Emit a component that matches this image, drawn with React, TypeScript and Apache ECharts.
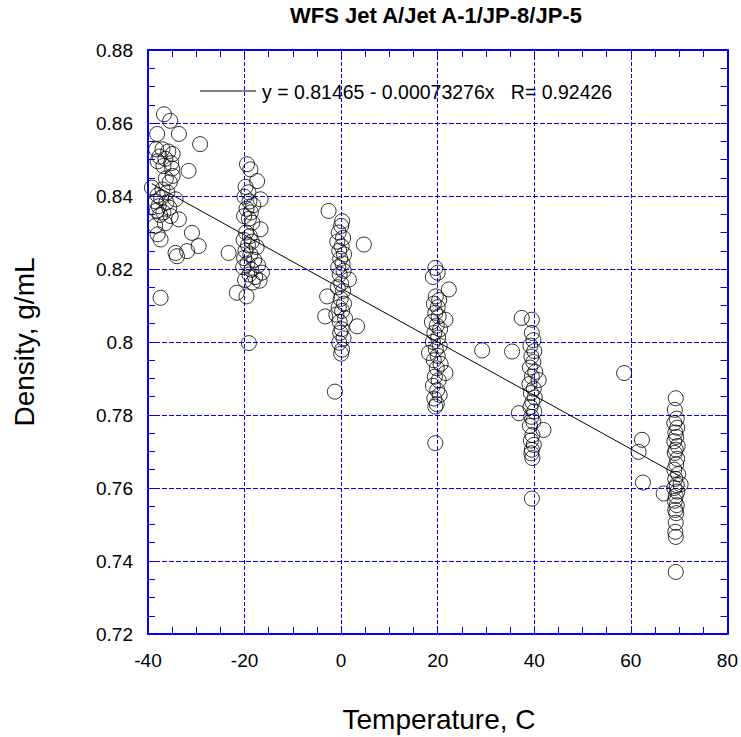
import React, { useEffect, useRef } from "react";
import * as echarts from "echarts";

// ---- Data (temperature °C, density g/mL) ----
const clusterMinus37: [number, number][] = [
  [-36.7, 0.8624], [-35.4, 0.8606], [-38.1, 0.857], [-33.6, 0.857], [-29.2, 0.8542],
  [-38.3, 0.8528], [-37.0, 0.8528], [-35.8, 0.8522], [-34.9, 0.8515], [-37.6, 0.8508],
  [-36.4, 0.8502], [-38.0, 0.8495], [-35.2, 0.849], [-36.8, 0.8482], [-35.0, 0.8475],
  [-31.6, 0.8469], [-34.9, 0.8455], [-36.3, 0.8448], [-35.5, 0.8438], [-39.2, 0.8423],
  [-37.0, 0.8418], [-36.0, 0.841], [-38.0, 0.8402], [-34.3, 0.8391], [-37.3, 0.8395],
  [-38.4, 0.8385], [-36.2, 0.8382], [-37.8, 0.8372], [-35.6, 0.8368], [-38.2, 0.836],
  [-36.8, 0.8355], [-37.5, 0.8348], [-35.3, 0.8345], [-33.6, 0.8336], [-38.5, 0.8318],
  [-36.5, 0.8325], [-37.4, 0.8281], [-38.0, 0.8295], [-30.9, 0.8299], [-29.5, 0.8263],
  [-34.3, 0.8244], [-31.9, 0.8249], [-34.0, 0.8235], [-37.4, 0.8121],
];

const clusterMinus19: [number, number][] = [
  [-19.5, 0.8487], [-18.8, 0.8473], [-17.4, 0.8441], [-19.8, 0.8425], [-19.2, 0.841],
  [-16.7, 0.8391], [-20.0, 0.8398], [-19.0, 0.8385], [-18.2, 0.8375], [-19.6, 0.8365],
  [-18.7, 0.8355], [-20.1, 0.8345], [-19.1, 0.8338], [-18.4, 0.8327], [-16.7, 0.8309],
  [-19.7, 0.83], [-18.9, 0.829], [-20.2, 0.828], [-18.5, 0.8275], [-19.3, 0.8265],
  [-17.5, 0.826], [-23.3, 0.8244], [-19.8, 0.825], [-18.8, 0.824], [-20.1, 0.823],
  [-18.0, 0.8225], [-19.4, 0.8215], [-17.2, 0.821], [-20.3, 0.8205], [-18.6, 0.8198],
  [-16.4, 0.819], [-19.0, 0.8185], [-17.8, 0.8178], [-19.9, 0.817], [-18.3, 0.8163],
  [-16.9, 0.8168], [-21.6, 0.8135], [-19.6, 0.8125], [-19.1, 0.7997],
];

const clusterZero: [number, number][] = [
  [-2.6, 0.8359], [0.2, 0.8331], [0.0, 0.8318], [-0.5, 0.83], [0.4, 0.8285],
  [-0.8, 0.8275], [4.7, 0.8267], [0.1, 0.8262], [-0.4, 0.825], [0.6, 0.824],
  [-0.2, 0.8228], [0.3, 0.8215], [-0.6, 0.8205], [0.5, 0.8195], [1.6, 0.8171],
  [-0.3, 0.8185], [0.0, 0.816], [-0.7, 0.815], [0.4, 0.814], [-2.9, 0.8125],
  [-0.1, 0.8118], [0.6, 0.8105], [-0.5, 0.8095], [0.2, 0.8085], [-3.3, 0.807],
  [-1.0, 0.8075], [0.8, 0.8065], [-0.3, 0.8055], [3.3, 0.8043], [0.1, 0.8035],
  [-0.2, 0.8025], [0.5, 0.801], [-0.4, 0.7998], [0.2, 0.7979], [0.0, 0.7968],
  [-1.3, 0.7864],
];

const clusterTwenty: [number, number][] = [
  [19.5, 0.8203], [20.0, 0.819], [19.0, 0.8178], [22.3, 0.8144], [19.6, 0.8125],
  [20.3, 0.8115], [19.2, 0.8105], [20.0, 0.8095], [19.5, 0.808], [21.6, 0.8061],
  [20.2, 0.807], [18.8, 0.8055], [19.8, 0.8045], [20.5, 0.8035], [19.3, 0.8025],
  [20.1, 0.8012], [19.0, 0.8], [20.4, 0.799], [18.2, 0.797], [19.6, 0.798],
  [20.0, 0.7962], [19.2, 0.795], [20.6, 0.794], [19.8, 0.7928], [21.6, 0.7915],
  [19.4, 0.7905], [20.2, 0.7895], [19.0, 0.788], [19.9, 0.7868], [20.4, 0.7855],
  [19.3, 0.7845], [19.8, 0.783], [19.5, 0.7823], [29.2, 0.7977], [19.5, 0.7723],
];

const clusterForty: [number, number][] = [
  [37.4, 0.8066], [39.5, 0.8061], [39.5, 0.8025], [39.8, 0.8005], [35.4, 0.7974],
  [39.2, 0.799], [40.0, 0.7975], [39.4, 0.796], [39.8, 0.7945], [39.1, 0.793],
  [40.2, 0.7918], [40.9, 0.7896], [39.5, 0.7905], [39.0, 0.7885], [39.9, 0.7872],
  [39.3, 0.786], [40.1, 0.7848], [39.6, 0.7835], [39.2, 0.7822], [36.8, 0.7805],
  [40.0, 0.781], [39.4, 0.7795], [39.8, 0.7782], [39.1, 0.777], [41.9, 0.7759],
  [39.6, 0.7745], [39.3, 0.773], [39.9, 0.7718], [39.5, 0.7705], [39.4, 0.7695],
  [39.6, 0.7682], [39.5, 0.7571],
];

const clusterSeventy: [number, number][] = [
  [58.6, 0.7915], [62.3, 0.7732], [61.6, 0.7699], [62.5, 0.7615], [66.8, 0.7585],
  [69.3, 0.7846], [69.1, 0.7814], [69.5, 0.779], [69.0, 0.7778], [69.6, 0.7765],
  [69.2, 0.7752], [69.4, 0.774], [69.0, 0.7728], [69.7, 0.7715], [69.3, 0.7705],
  [69.1, 0.7696], [69.6, 0.768], [69.4, 0.7665], [69.0, 0.765], [69.8, 0.7638],
  [69.2, 0.7625], [70.3, 0.761], [69.5, 0.7608], [69.0, 0.76], [69.6, 0.759],
  [69.3, 0.7578], [69.1, 0.7565], [69.5, 0.7553], [69.2, 0.754], [69.4, 0.7531],
  [69.3, 0.7505], [69.2, 0.748], [69.3, 0.7466], [69.3, 0.737],
];

// Regression shown in the chart: y = 0.81465 - 0.00073276x, R = 0.92426
const FIT_INTERCEPT = 0.81465;
const FIT_SLOPE = -0.00073276;
const FIT_X_RANGE = [-39.2, 70.3];
const FIT_LABEL = "y = 0.81465 - 0.00073276x   R= 0.92426";

const X_TICKS = { min: -40, max: 80, interval: 20 };
const Y_TICKS = { min: 0.72, max: 0.88, interval: 0.02 };

const TITLE = "WFS Jet A/Jet A-1/JP-8/JP-5";
const X_NAME = "Temperature, C";
const Y_NAME = "Density, g/mL";

const BLUE = "#0000ff";
const FONT = "'Liberation Sans', Arial, sans-serif";

export default function App() {
  const ref = useRef<HTMLDivElement>(null);

  useEffect(() => {
    if (!ref.current) return;
    const chart = echarts.init(ref.current, undefined, { renderer: "svg" });

    const allPoints = [
      ...clusterMinus37,
      ...clusterMinus19,
      ...clusterZero,
      ...clusterTwenty,
      ...clusterForty,
      ...clusterSeventy,
    ];
    const fitLine = FIT_X_RANGE.map((x) => [x, FIT_INTERCEPT + FIT_SLOPE * x]);

    const axisCommon = {
      type: "value" as const,
      axisLine: { show: true, onZero: false, lineStyle: { color: BLUE, width: 2 } },
      axisTick: { show: true, inside: true, length: 7, lineStyle: { color: BLUE, width: 1 } },
      minorTick: { show: true, splitNumber: 4, length: 7, lineStyle: { color: BLUE, width: 1 } },
    };

    chart.setOption({
      animation: false,
      grid: { left: 148, top: 50, width: 582, height: 584, containLabel: false },
      xAxis: [
        {
          ...axisCommon,
          ...X_TICKS,
          position: "bottom",
          splitLine: { show: true, lineStyle: { color: BLUE, type: [4, 2], width: 1 } },
          axisLabel: { show: true, color: "#000", fontSize: 19, fontFamily: FONT, margin: 17 },
        },
        {
          ...axisCommon,
          ...X_TICKS,
          position: "top",
          splitLine: { show: false },
          axisLabel: { show: false },
        },
      ],
      yAxis: [
        {
          ...axisCommon,
          ...Y_TICKS,
          position: "left",
          splitLine: { show: true, lineStyle: { color: BLUE, type: [5, 2], width: 1 } },
          axisLabel: { show: true, color: "#000", fontSize: 19, fontFamily: FONT, margin: 15 },
        },
        {
          ...axisCommon,
          ...Y_TICKS,
          position: "right",
          splitLine: { show: false },
          axisLabel: { show: false },
        },
      ],
      series: [
        {
          type: "scatter",
          data: allPoints,
          symbol: "circle",
          symbolSize: 15,
          itemStyle: { color: "rgba(0,0,0,0)", borderColor: "#000", borderWidth: 1 },
          z: 3,
        },
        {
          type: "line",
          data: fitLine,
          showSymbol: false,
          symbol: "none",
          lineStyle: { color: "#000", width: 1 },
          z: 2,
        },
      ],
      graphic: [
        {
          type: "text",
          x: 436,
          y: 15,
          style: {
            text: TITLE,
            fill: "#000",
            font: `bold 22px ${FONT}`,
            textAlign: "center",
            textVerticalAlign: "middle",
          },
        },
        {
          type: "line",
          shape: { x1: 200, y1: 91, x2: 256, y2: 91 },
          style: { stroke: "#000", lineWidth: 1 },
        },
        {
          type: "text",
          x: 262,
          y: 92,
          style: {
            text: FIT_LABEL,
            fill: "#000",
            font: `19.5px ${FONT}`,
            textAlign: "left",
            textVerticalAlign: "middle",
          },
        },
        {
          type: "text",
          x: 439,
          y: 719,
          style: {
            text: X_NAME,
            fill: "#000",
            font: `28px ${FONT}`,
            textAlign: "center",
            textVerticalAlign: "middle",
          },
        },
        {
          type: "text",
          x: 24,
          y: 342,
          rotation: Math.PI / 2,
          style: {
            text: Y_NAME,
            fill: "#000",
            font: `28px ${FONT}`,
            textAlign: "center",
            textVerticalAlign: "middle",
          },
        },
      ],
    });

    return () => chart.dispose();
  }, []);

  return (
    <div
      ref={ref}
      style={{ position: "fixed", left: 0, top: 0, width: 741, height: 737, background: "#fff" }}
    />
  );
}
